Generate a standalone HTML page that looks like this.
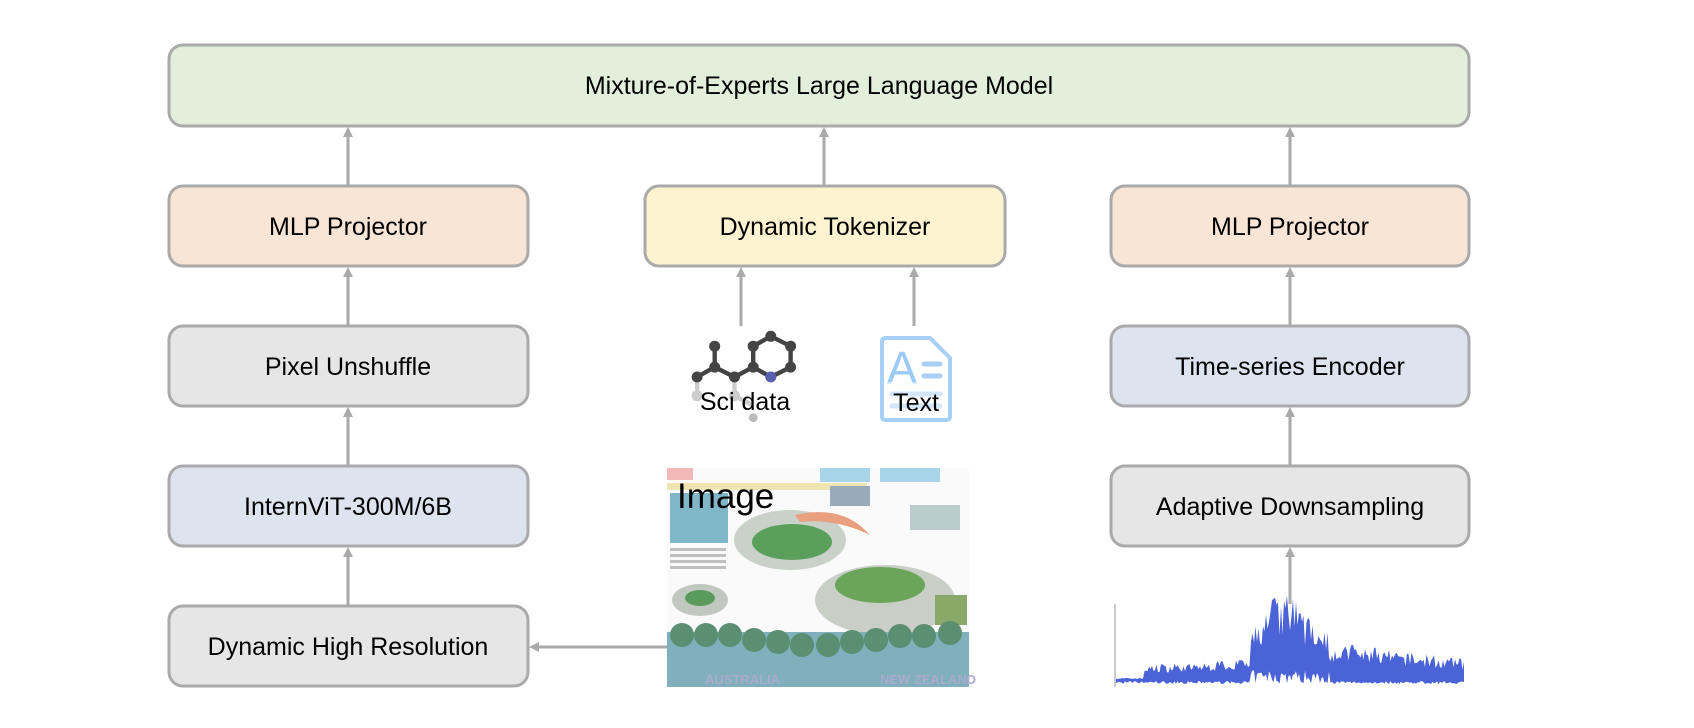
<!DOCTYPE html>
<html><head><meta charset="utf-8"><style>
html,body{margin:0;padding:0;background:#fff;}
svg{display:block}
text{font-family:"Liberation Sans","Noto Sans CJK SC",sans-serif;}
</style></head><body>
<svg id="s" width="1694" height="728" viewBox="0 0 1694 728" xmlns="http://www.w3.org/2000/svg">
<defs>
<marker id="ah" markerWidth="10" markerHeight="10" refX="5" refY="5" orient="auto" markerUnits="userSpaceOnUse">
<path d="M0,0 L10,5 L0,10 z" fill="#aaa"/></marker>
</defs>
<g stroke="#aaa" stroke-width="3">
<rect x="169" y="45" width="1300" height="81" rx="14" fill="#e2efda"/>
<rect x="169" y="186" width="359" height="80" rx="14" fill="#f8e5d6"/>
<rect x="645" y="186" width="360" height="80" rx="14" fill="#fdf3d0"/>
<rect x="1111" y="186" width="358" height="80" rx="14" fill="#f8e5d6"/>
<rect x="169" y="326" width="359" height="80" rx="14" fill="#e6e6e6"/>
<rect x="1111" y="326" width="358" height="80" rx="14" fill="#dde4f0"/>
<rect x="169" y="466" width="359" height="80" rx="14" fill="#dde4f0"/>
<rect x="1111" y="466" width="358" height="80" rx="14" fill="#e6e6e6"/>
<rect x="169" y="606" width="359" height="80" rx="14" fill="#e6e6e6"/>
</g>
<g stroke="#aaa" stroke-width="3" marker-end="url(#ah)">
<line x1="348" y1="186" x2="348" y2="132"/>
<line x1="824" y1="186" x2="824" y2="132"/>
<line x1="1290" y1="186" x2="1290" y2="132"/>
<line x1="348" y1="326" x2="348" y2="272"/>
<line x1="1290" y1="326" x2="1290" y2="272"/>
<line x1="348" y1="466" x2="348" y2="412"/>
<line x1="1290" y1="466" x2="1290" y2="412"/>
<line x1="348" y1="606" x2="348" y2="552"/>
<line x1="1290" y1="604" x2="1290" y2="552"/>
<line x1="741" y1="326" x2="741" y2="272"/>
<line x1="914" y1="326" x2="914" y2="272"/>
<line x1="667" y1="647" x2="534" y2="647"/>
</g>
<g font-size="25" fill="#000" text-anchor="middle">
<text x="819" y="94">Mixture-of-Experts Large Language Model</text>
<text x="348" y="235">MLP Projector</text>
<text x="825" y="235">Dynamic Tokenizer</text>
<text x="1290" y="235">MLP Projector</text>
<text x="348" y="375">Pixel Unshuffle</text>
<text x="1290" y="375">Time-series Encoder</text>
<text x="348" y="515">InternViT-300M/6B</text>
<text x="1290" y="515">Adaptive Downsampling</text>
<text x="348" y="655">Dynamic High Resolution</text>
</g>
<!-- molecule -->
<g transform="translate(-74,-30) scale(1.1)">
<g stroke="#ccc" stroke-width="4"><line x1="701" y1="370" x2="701" y2="387"/><line x1="735" y1="370" x2="735" y2="387"/><line x1="735" y1="387" x2="752" y2="396"/></g>
<g stroke="#444" stroke-width="4">
<line x1="717" y1="342" x2="717" y2="361"/><line x1="717" y1="361" x2="701" y2="370"/>
<line x1="717" y1="361" x2="735" y2="370"/><line x1="735" y1="370" x2="752" y2="361"/>
<line x1="752" y1="361" x2="752" y2="342"/><line x1="752" y1="342" x2="768" y2="333"/>
<line x1="768" y1="333" x2="786" y2="342"/><line x1="786" y1="342" x2="786" y2="361"/>
<line x1="786" y1="361" x2="768" y2="370"/><line x1="768" y1="370" x2="752" y2="361"/>
</g>
<g fill="#444"><circle cx="717" cy="342" r="5"/><circle cx="717" cy="361" r="5"/><circle cx="701" cy="370" r="5"/><circle cx="735" cy="370" r="5"/><circle cx="752" cy="361" r="5"/><circle cx="752" cy="342" r="5"/><circle cx="768" cy="333" r="5"/><circle cx="786" cy="342" r="5"/><circle cx="786" cy="361" r="5"/></g>
<circle cx="768" cy="370" r="5" fill="#5a5fb0"/>
<circle cx="701" cy="387" r="5" fill="#ccc"/><circle cx="735" cy="387" r="5" fill="#ccc"/>
<circle cx="752" cy="407" r="4" fill="#bbb"/>
</g>
<text x="745" y="410" font-size="25" text-anchor="middle">Sci data</text>
<!-- text icon -->
<path d="M886,338 H930 L950,358 V416 Q950,420 946,420 H886 Q882,420 882,416 V342 Q882,338 886,338 z" fill="#fff" stroke="#a8cff5" stroke-width="4"/>
<text x="902" y="384" font-size="46" fill="#9ccaf7" text-anchor="middle">A</text>
<g stroke="#a8cff5" stroke-width="5" stroke-linecap="round"><line x1="924" y1="364" x2="940" y2="364"/><line x1="924" y1="376" x2="940" y2="376"/><line x1="892" y1="394" x2="940" y2="394"/><line x1="892" y1="406" x2="940" y2="406"/></g>
<rect x="884" y="382" width="64" height="36" fill="#fff" opacity="0.5"/>
<text x="916" y="411" font-size="25" text-anchor="middle">Text</text>
<!-- image -->
<g>
<rect x="667" y="468" width="302" height="219" fill="#fafafa"/>
<rect x="667" y="468" width="26" height="12" fill="#f2b8b8"/>
<rect x="820" y="468" width="50" height="14" fill="#a8d4ea"/>
<rect x="880" y="468" width="60" height="14" fill="#a8d4ea"/>
<rect x="667" y="483" width="200" height="7" fill="#f0e4b0"/>
<rect x="670" y="493" width="58" height="50" fill="#7fb6c8"/>
<g fill="#888" opacity="0.5"><rect x="670" y="548" width="56" height="3"/><rect x="670" y="554" width="56" height="3"/><rect x="670" y="560" width="56" height="3"/><rect x="670" y="566" width="56" height="3"/></g>
<ellipse cx="790" cy="540" rx="56" ry="30" fill="#c9d1c9"/>
<ellipse cx="792" cy="542" rx="40" ry="18" fill="#5aa05a"/>
<path d="M795,515 Q840,505 865,530 L870,535 Q835,518 800,522z" fill="#e8a080"/>
<ellipse cx="885" cy="600" rx="70" ry="35" fill="#c9cfc6"/>
<ellipse cx="880" cy="585" rx="45" ry="18" fill="#6aa55a"/>
<ellipse cx="700" cy="600" rx="28" ry="16" fill="#c0c8c0"/>
<ellipse cx="700" cy="598" rx="15" ry="8" fill="#5a9a5a"/>
<rect x="830" y="486" width="40" height="20" fill="#9ab"/>
<rect x="910" y="505" width="50" height="25" fill="#bcc"/>
<rect x="935" y="595" width="32" height="30" fill="#8aa868"/>
<rect x="667" y="632" width="302" height="55" fill="#7fb0bc"/>
<g fill="#5c8f72"><circle cx="682" cy="635" r="12"/><circle cx="706" cy="635" r="12"/><circle cx="730" cy="635" r="12"/><circle cx="754" cy="640" r="12"/><circle cx="778" cy="642" r="12"/><circle cx="802" cy="645" r="12"/><circle cx="828" cy="645" r="12"/><circle cx="852" cy="642" r="12"/><circle cx="876" cy="640" r="12"/><circle cx="900" cy="636" r="12"/><circle cx="924" cy="636" r="12"/><circle cx="950" cy="633" r="12"/></g>
<text x="705" y="684" font-size="13" fill="#aac" font-weight="bold">AUSTRALIA</text>
<text x="880" y="684" font-size="13" fill="#aac" font-weight="bold">NEW ZEALAND</text>
<text x="677" y="508" font-size="35" text-anchor="start">Image</text>
</g>
<!-- waveform -->
<line x1="1115" y1="604" x2="1115" y2="687" stroke="#bbb" stroke-width="1.5"/>
<path id="wave" fill="#4a63d6" d=""/>
</svg>
<script>
(function(){
var seed=7;function r(){seed=(seed*16807)%2147483647;return seed/2147483647;}
var top=[],bot=[];
for(var x=1116;x<=1465;x+=1.5){
 var env,base=684;
 if(x<1144){env=2;}
 else if(x<1250){env=14+ (x-1144)*0.05;}
 else if(x<1330){var t=(x-1250)/80;env=45+36*Math.sin(Math.PI*Math.min(1,t*1.2));}
 else {env=36-(x-1330)*0.12;}
 var h=env*(0.5+0.5*r());
 if(r()<0.15)h=env*1.05;
 top.push(x.toFixed(1)+','+(base-h-4).toFixed(1));
 var b=base- (x>1250&&x<1330? r()*14:r()*3);
 bot.push(x.toFixed(1)+','+b.toFixed(1));
}
var d='M'+top.join(' L')+' L'+bot.reverse().join(' L')+' Z';
document.getElementById('wave').setAttribute('d',d);
})();
</script>
</body></html>
